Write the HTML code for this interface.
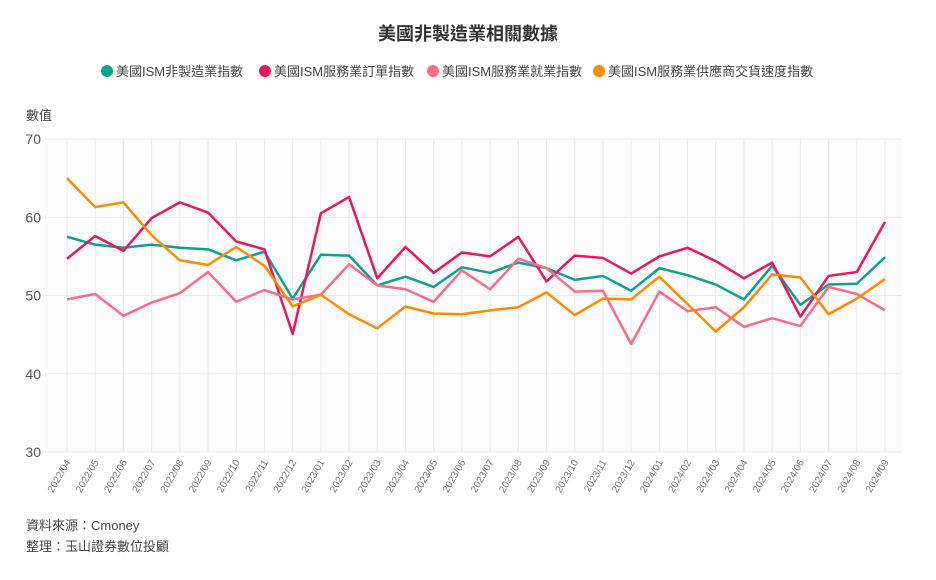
<!DOCTYPE html>
<html><head><meta charset="utf-8"><style>
body{margin:0;background:#fff;font-family:"Liberation Sans","Noto Sans CJK TC",sans-serif;}
svg text{font-family:"Liberation Sans","Noto Sans CJK TC",sans-serif;}
</style></head><body>
<svg id="c" width="936" height="575" xmlns="http://www.w3.org/2000/svg">
<text x="468" y="40" text-anchor="middle" font-size="18" font-weight="bold" fill="#333">美國非製造業相關數據</text>
<g id="legend"></g>
<text x="26" y="120" font-size="13" fill="#444">數值</text>
<g id="grid"></g><g id="lines"></g><g id="xl"></g>
<text x="26" y="530" font-size="13" fill="#444">資料來源：Cmoney</text>
<text x="26" y="551" font-size="13" fill="#444">整理：玉山證券數位投顧</text>
</svg>
<script>
const categories=["2022/04","2022/05","2022/06","2022/07","2022/08","2022/09","2022/10","2022/11","2022/12","2023/01","2023/02","2023/03","2023/04","2023/05","2023/06","2023/07","2023/08","2023/09","2023/10","2023/11","2023/12","2024/01","2024/02","2024/03","2024/04","2024/05","2024/06","2024/07","2024/08","2024/09"];
const seriesNames=["美國ISM非製造業指數","美國ISM服務業訂單指數","美國ISM服務業就業指數","美國ISM服務業供應商交貨速度指數"];
const nonMfg=[57.5,56.5,56.1,56.5,56.1,55.9,54.5,55.6,49.6,55.2,55.1,51.3,52.4,51.1,53.6,52.9,54.2,53.5,52.0,52.5,50.6,53.5,52.6,51.4,49.5,53.8,48.8,51.4,51.5,54.9];
const orders=[54.7,57.6,55.7,59.9,61.9,60.6,56.9,55.9,45.1,60.5,62.6,52.2,56.2,52.9,55.5,55.0,57.5,51.8,55.1,54.8,52.8,55.0,56.1,54.4,52.2,54.2,47.3,52.5,53.0,59.4];
const employment=[49.5,50.2,47.4,49.1,50.3,53.0,49.2,50.7,49.5,50.1,54.0,51.3,50.8,49.2,53.2,50.8,54.7,53.5,50.5,50.6,43.8,50.5,48.0,48.5,46.0,47.1,46.1,51.1,50.2,48.1];
const deliveries=[65.0,61.3,61.9,57.7,54.5,53.9,56.2,53.8,48.6,50.1,47.6,45.8,48.6,47.7,47.6,48.1,48.5,50.4,47.5,49.6,49.5,52.4,48.9,45.4,48.5,52.7,52.3,47.6,49.6,52.1];
const yTicks=[30,40,50,60,70];
const colors=["#0fa095","#e8185f","#ff6b8a","#ff8c00"];
const NS="http://www.w3.org/2000/svg";
const x=i=>67+i*(885-67)/(categories.length-1);
const y=v=>452-(v-30)*(452-139)/40;
function mk(t,a,p){const e=document.createElementNS(NS,t);for(const k in a)e.setAttribute(k,a[k]);p.appendChild(e);return e;}
const grid=document.getElementById('grid');
mk('rect',{x:45,y:139,width:857,height:313,fill:'#fcfcfc'},grid);
categories.forEach((c,i)=>{const l=mk('line',{x1:x(i),x2:x(i),y1:139,y2:452,stroke:'#ebebeb','stroke-width':1},grid);


const t=mk('text',{x:x(i)+4,y:462,'font-size':10,fill:'#777','text-anchor':'end',transform:`rotate(-60 ${x(i)+4} 462)`},document.getElementById('xl'));t.textContent=c;

});
yTicks.forEach(v=>{const l=mk('line',{x1:45,x2:902,y1:y(v),y2:y(v),stroke:'#ebebeb','stroke-width':1},grid);


const t=mk('text',{x:41,y:y(v)+5,'font-size':14,fill:'#555','text-anchor':'end'},grid);t.textContent=v;

});
const data=[nonMfg,orders,employment,deliveries];
const names=['series-non-manufacturing','series-orders','series-employment','series-deliveries'];
data.forEach((d,s)=>{const p=mk('polyline',{points:d.map((v,i)=>x(i)+','+y(v)).join(' '),fill:'none',stroke:colors[s],'stroke-width':2.5,'stroke-linejoin':'round'},document.getElementById('lines'));

});
const lg=document.getElementById('legend');const lx=[100,258,426,592];
seriesNames.forEach((n,s)=>{const g=mk('g',{},lg);


mk('circle',{cx:lx[s]+7,cy:71,r:6,fill:colors[s]},g);
const t=mk('text',{x:lx[s]+16,y:76,'font-size':13,fill:'#444'},g);t.textContent=n;});
</script>
</body></html>
